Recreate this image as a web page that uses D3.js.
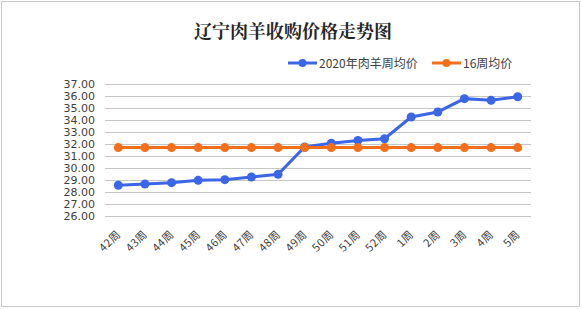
<!DOCTYPE html>
<html lang="zh">
<head>
<meta charset="UTF-8">
<title>辽宁肉羊收购价格走势图</title>
<style>
  * {padding:0; margin:0;}
  body {background:#fff;}
  #chart {display:block;}
  .grid line {stroke:#c6c6c6; stroke-width:1px;}
  .ytick {font-family:"DejaVu Sans", sans-serif; font-size:11px; fill:#404040; text-anchor:end;}
  .xtick {font-family:"Noto Sans CJK SC", sans-serif; font-size:11px; fill:#404040; text-anchor:end; letter-spacing:0.5px;}
  .legend text {font-family:"Noto Sans CJK SC", sans-serif; font-size:12px; fill:#404040;}
  .title {font-family:"Noto Serif CJK SC", "Noto Sans CJK SC", serif; font-size:18px; font-weight:bold; fill:#262626; text-anchor:middle;}
</style>
</head>
<body>
<script src="https://cdn.jsdelivr.net/npm/d3@7"></script>
<svg id="chart" width="583" height="309"></svg>
<script>
// 数据
var weeks = ["42周","43周","44周","45周","46周","47周","48周","49周","50周","51周","52周","1周","2周","3周","4周","5周"];
var price2020 = [28.56, 28.67, 28.78, 28.97, 29.03, 29.25, 29.47, 31.75, 32.06, 32.3, 32.44, 34.25, 34.67, 35.78, 35.64, 35.94];
var avg16 = [31.7, 31.7, 31.7, 31.7, 31.7, 31.7, 31.7, 31.7, 31.7, 31.7, 31.7, 31.7, 31.7, 31.7, 31.7, 31.7];
var yTicks = [26, 27, 28, 29, 30, 31, 32, 33, 34, 35, 36, 37];
var seriesNames = ["2020年肉羊周均价", "16周均价"];
var colors = ["#3b66e6", "#f36f1b"];

var svg = d3.select("#chart");

// 外框
svg.append("rect")
  .attr("x", 1.5).attr("y", 1.5)
  .attr("width", 578).attr("height", 305)
  .attr("fill", "none").attr("stroke", "#c8c8c8");

var x = d3.scalePoint().domain(weeks).range([105, 531]).padding(0.5);
var y = d3.scaleLinear().domain([26, 37]).range([216, 84]);

// 标题
svg.append("text").attr("class", "title")
  .attr("x", 293).attr("y", 38)
  .text("辽宁肉羊收购价格走势图");

// 网格线
svg.append("g").attr("class", "grid")
  .selectAll("line").data(yTicks).enter().append("line")
  .attr("x1", 105).attr("x2", 531)
  .attr("y1", function(d){ return Math.round(y(d)) + 0.5; })
  .attr("y2", function(d){ return Math.round(y(d)) + 0.5; });

// Y轴标签
svg.selectAll(".ytick").data(yTicks).enter().append("text")
  .attr("class", "ytick")
  .attr("x", 95)
  .attr("y", function(d){ return y(d) + 4; })
  .text(function(d){ return d.toFixed(2); });

// X轴标签（旋转）
svg.selectAll(".xtick").data(weeks).enter().append("text")
  .attr("class", "xtick")
  .attr("transform", function(d){ return "translate(" + (x(d) + 3) + ",235) rotate(-45)"; })
  .text(function(d){ return d; });

// 折线
var line = d3.line()
  .x(function(d, i){ return x(weeks[i]); })
  .y(function(d){ return y(d); });

[price2020, avg16].forEach(function(series, k){
  var g = svg.append("g");
  g.append("path").datum(series)
    .attr("fill", "none")
    .attr("stroke", colors[k])
    .attr("stroke-width", 3)
    .attr("d", line);
  g.selectAll("circle").data(series).enter().append("circle")
    .attr("cx", function(d, i){ return x(weeks[i]); })
    .attr("cy", function(d){ return y(d); })
    .attr("r", 4.5)
    .attr("fill", colors[k]);
});

// 图例
var legendX = [288, 432];
var legend = svg.append("g").attr("class", "legend");
seriesNames.forEach(function(name, k){
  var lg = legend.append("g").attr("transform", "translate(" + legendX[k] + ",63)");
  lg.append("line").attr("x1", 0).attr("x2", 29).attr("y1", 0).attr("y2", 0)
    .attr("stroke", colors[k]).attr("stroke-width", 3);
  lg.append("circle").attr("cx", 14.5).attr("cy", 0).attr("r", 4).attr("fill", colors[k]);
  lg.append("text").attr("x", 31).attr("y", 4.5).text(name);
});
</script>
</body>
</html>
